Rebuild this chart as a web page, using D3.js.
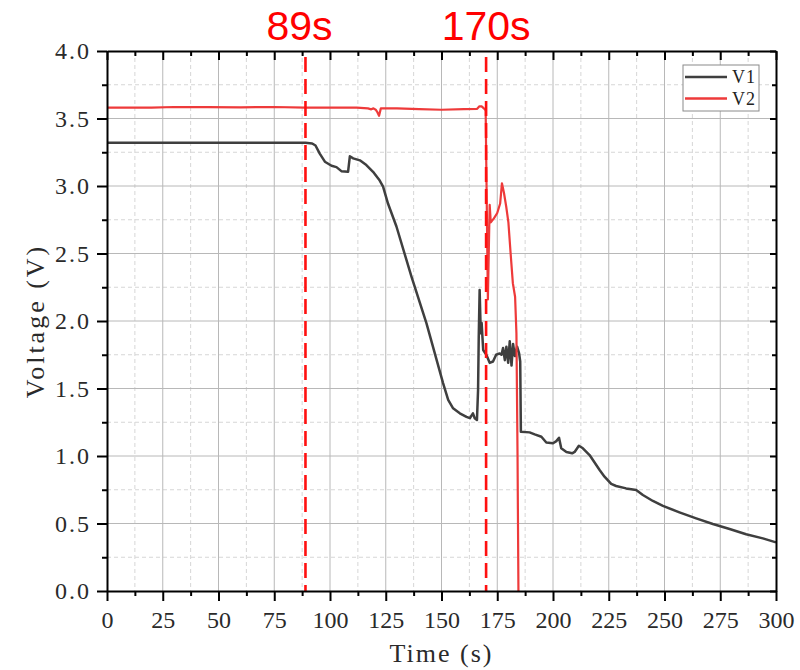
<!DOCTYPE html>
<html><head><meta charset="utf-8">
<script src="https://cdn.jsdelivr.net/npm/d3@7/dist/d3.min.js"></script>
<style>body{margin:0;background:#fff}svg{display:block}
.serif{font-family:"Liberation Serif","DejaVu Serif",serif !important;}
</style>
</head><body>
<svg id="chart" width="800" height="670"></svg>
<script>
// ---- data ----
const xTicks = [0,25,50,75,100,125,150,175,200,225,250,275,300];
const yTicks = [0,0.5,1.0,1.5,2.0,2.5,3.0,3.5,4.0];
const seriesNames = ["V1","V2"];
const markers = [89,170];
const markerLabels = ["89s","170s"];

const v1 = [
 [0,3.32],[20,3.32],[40,3.32],[60,3.32],[80,3.32],[89,3.32],[92,3.315],[93.5,3.30],[95.4,3.24],[97.7,3.18],[100.7,3.15],[102.9,3.14],
 [105.1,3.11],[108.1,3.105],[108.9,3.22],[110.4,3.205],[113.4,3.19],[116.3,3.155],[119.3,3.105],[122.3,3.04],
 [123.8,2.995],[126,2.87],[129.8,2.70],[136.5,2.33],[143.3,1.98],[150.7,1.54],[153,1.415],[155.2,1.353],
 [158.2,1.316],[161.2,1.29],[162.7,1.28],[164.1,1.316],[164.9,1.28],[165.9,1.267],[166.4,1.49],[166.7,1.88],
 [167.1,2.23],[167.6,1.91],[168.0,1.985],[168.7,1.785],[170.1,1.75],[171.6,1.69],[173.1,1.70],[174.5,1.75],
 [176.1,1.76],[176.9,1.75],[177.6,1.80],[178.4,1.71],[179.1,1.81],[179.9,1.69],[180.6,1.85],[181.4,1.67],
 [182.1,1.83],[182.9,1.74],[183.9,1.81],[184.8,1.76],[185.3,1.70],[185.6,1.18],[189.5,1.175],[191.8,1.16],
 [194.8,1.143],[197,1.10],[200,1.094],[201.5,1.11],[202.7,1.135],[203.7,1.057],[206,1.03],[208.6,1.02],
 [209.7,1.03],[211.6,1.076],[213.4,1.057],[216.4,1.007],[219.4,0.933],[220.9,0.896],[223.1,0.847],
 [226.1,0.793],[228.3,0.778],[232.8,0.76],[237.3,0.748],[240.3,0.711],[244.8,0.667],[249.3,0.63],
 [256.7,0.583],[264.2,0.538],[271.7,0.496],[279.2,0.459],[286.6,0.42],[294.1,0.39],[300,0.36]
];
const v2 = [
 [0,3.58],[20,3.58],[30,3.585],[45,3.585],[60,3.583],[75,3.585],[89,3.58],[100,3.58],[112,3.58],[117,3.575],
 [118.5,3.568],[119.5,3.575],[120.5,3.565],[121.3,3.545],[122,3.52],[122.8,3.575],[130,3.575],[140,3.57],
 [150,3.565],[160,3.57],[166,3.572],[167,3.59],[168,3.59],[169,3.575],[169.8,3.56],[170.2,3.0],[170.8,2.16],
 [171.3,2.6],[171.6,2.86],[172.1,2.73],[173.5,2.76],[175,2.8],[176.3,2.87],[177.1,3.02],[178,2.95],
 [179,2.85],[180,2.73],[181,2.5],[182,2.28],[183,2.18],[183.6,1.91],[184.1,1.0],[184.5,0.0]
];

// ---- layout ----
const svg = d3.select("#chart");
const L = 107, R = 776, T = 51, B = 591;
const x = d3.scaleLinear().domain([0,300]).range([L,R]);
const y = d3.scaleLinear().domain([0,4]).range([B,T]);

// grid
const g = svg.append("g");
const minorX = d3.range(12.5,300,25);
const minorY = d3.range(0.25,4,0.5);
g.selectAll(".mgx").data(minorX).join("line")
  .attr("x1",d=>x(d)).attr("x2",d=>x(d)).attr("y1",T).attr("y2",B)
  .attr("stroke","#d6d6d6").attr("stroke-dasharray","4,3").attr("stroke-width",1);
g.selectAll(".mgy").data(minorY).join("line")
  .attr("y1",d=>y(d)).attr("y2",d=>y(d)).attr("x1",L).attr("x2",R)
  .attr("stroke","#d6d6d6").attr("stroke-dasharray","4,3").attr("stroke-width",1);
g.selectAll(".gx").data(xTicks.slice(1,-1)).join("line")
  .attr("x1",d=>x(d)).attr("x2",d=>x(d)).attr("y1",T).attr("y2",B)
  .attr("stroke","#b8b8b8").attr("stroke-width",1);
g.selectAll(".gy").data(yTicks.slice(1,-1)).join("line")
  .attr("y1",d=>y(d)).attr("y2",d=>y(d)).attr("x1",L).attr("x2",R)
  .attr("stroke","#b8b8b8").attr("stroke-width",1);

// lines
const line = d3.line().x(d=>x(d[0])).y(d=>y(d[1]));
svg.append("path").datum(v1).attr("d",line).attr("fill","none")
  .attr("stroke","#3f3f3f").attr("stroke-width",2.5).attr("stroke-linejoin","round");
svg.append("path").datum(v2).attr("d",line).attr("fill","none")
  .attr("stroke","#ee3a3a").attr("stroke-width",2.2).attr("stroke-linejoin","round");

// marker dashed lines
svg.selectAll(".mk").data(markers).join("line")
  .attr("x1",d=>x(d)).attr("x2",d=>x(d)).attr("y1",T+6).attr("y2",B)
  .attr("stroke","#ff1010").attr("stroke-width",2.6).attr("stroke-dasharray","15,7");
svg.selectAll(".mkl").data(markers).join("text")
  .attr("x",(d,i)=>x(d)-(i===0?6:0)).attr("y",40).attr("text-anchor","middle")
  .style("font-family","'Liberation Sans', Arial, sans-serif").style("font-size","41px")
  .attr("fill","#ff0000").text((d,i)=>markerLabels[i]);

// axes
function styleAxis(sel){
  sel.attr("font-family",null).attr("font-size",null);
  sel.select(".domain").attr("stroke","#000").attr("stroke-width",2);
  sel.selectAll(".tick line").attr("stroke","#000").attr("stroke-width",2);
}
const xb = svg.append("g").attr("transform",`translate(0,${B})`)
  .call(d3.axisBottom(x).tickValues(xTicks).tickSize(10).tickPadding(10).tickSizeOuter(0));
styleAxis(xb);
xb.selectAll(".tick text").attr("class","serif").style("font-size","24px").attr("fill","#2a2a2a");
const xbm = svg.append("g").attr("transform",`translate(0,${B})`)
  .call(d3.axisBottom(x).tickValues(minorX).tickSize(5).tickFormat("").tickSizeOuter(0));
styleAxis(xbm); xbm.select(".domain").remove();

const xt = svg.append("g").attr("transform",`translate(0,${T})`)
  .call(d3.axisBottom(x).tickValues(xTicks).tickSize(9).tickFormat("").tickSizeOuter(0));
styleAxis(xt);
const xtm = svg.append("g").attr("transform",`translate(0,${T})`)
  .call(d3.axisBottom(x).tickValues(minorX).tickSize(5).tickFormat("").tickSizeOuter(0));
styleAxis(xtm); xtm.select(".domain").remove();

const yl = svg.append("g").attr("transform",`translate(${L},0)`)
  .call(d3.axisLeft(y).tickValues(yTicks).tickSize(10).tickPadding(6).tickFormat(d3.format(".1f")).tickSizeOuter(0));
styleAxis(yl);
yl.selectAll(".tick text").attr("class","serif").style("font-size","24px").attr("fill","#2a2a2a")
  .style("letter-spacing","2px");
const ylm = svg.append("g").attr("transform",`translate(${L},0)`)
  .call(d3.axisLeft(y).tickValues(minorY).tickSize(5).tickFormat("").tickSizeOuter(0));
styleAxis(ylm); ylm.select(".domain").remove();

const yr = svg.append("g").attr("transform",`translate(${R},0)`)
  .call(d3.axisLeft(y).tickValues(yTicks).tickSize(6).tickFormat("").tickSizeOuter(0));
styleAxis(yr);
const yrm = svg.append("g").attr("transform",`translate(${R},0)`)
  .call(d3.axisLeft(y).tickValues(minorY).tickSize(4).tickFormat("").tickSizeOuter(0));
styleAxis(yrm); yrm.select(".domain").remove();

// axis titles
svg.append("text").attr("class","serif").attr("x",(L+R)/2).attr("y",662).attr("text-anchor","middle")
  .style("font-size","26px").style("letter-spacing","2px").attr("fill","#2a2a2a")
  .text("Time (s)");
svg.append("text").attr("class","serif").attr("transform",`translate(44,${(T+B)/2}) rotate(-90)`).attr("text-anchor","middle")
  .style("font-size","26px").style("letter-spacing","3px").attr("fill","#2a2a2a")
  .text("Voltage (V)");

// legend
const lg = svg.append("g");
lg.append("rect").attr("x",683).attr("y",65).attr("width",76).attr("height",46)
  .attr("fill","#fff").attr("stroke","#8a8a8a").attr("stroke-width",1);
const lcol = ["#3f3f3f","#ee3a3a"];
seriesNames.forEach((n,i)=>{
  lg.append("line").attr("x1",685).attr("x2",727).attr("y1",77+i*21.5).attr("y2",77+i*21.5)
    .attr("stroke",lcol[i]).attr("stroke-width",2.5);
  lg.append("text").attr("class","serif").attr("x",732).attr("y",83+i*21.5)
    .style("font-size","18px").attr("fill","#222").style("letter-spacing","1px").text(n);
});
</script>
</body></html>
